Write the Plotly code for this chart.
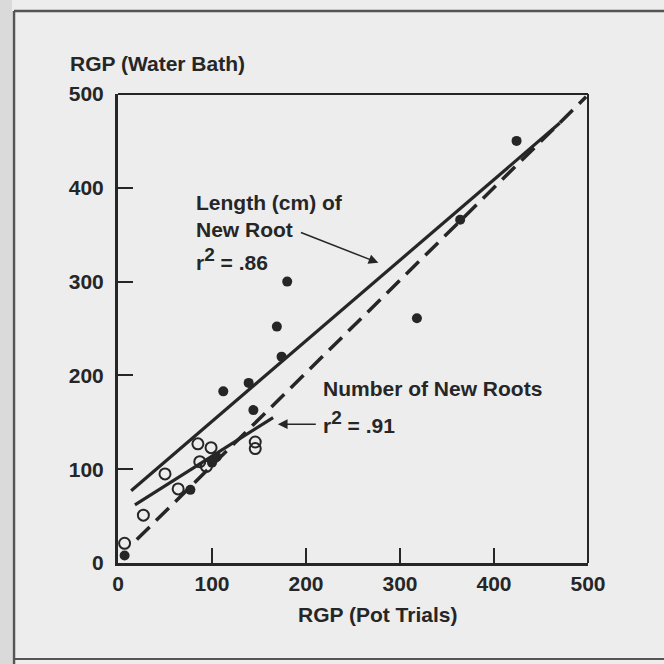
import plotly.graph_objects as go

# ---- data ----
length_x = [7, 77, 100, 105, 112, 139, 144, 174, 169, 180, 318, 364, 424]
length_y = [8, 78, 107, 113, 183, 192, 163, 220, 252, 300, 261, 366, 450]

number_x = [7, 27, 50, 64, 85, 87, 94, 99, 146, 146]
number_y = [21, 51, 95, 79, 127, 108, 103, 123, 129, 122]

length_fit_x = [14, 470]
length_fit_y = [77, 469]
number_fit_x = [18, 165]
number_fit_y = [62, 155]
dashed_x = [20, 498]
dashed_y = [25, 497]

tick_vals = [0, 100, 200, 300, 400, 500]
tick_text = ["0", "100", "200", "300", "400", "500"]

INK = "#262626"
BG = "#ededed"
FONT = "Liberation Sans"

fig = go.Figure()

fig.add_trace(go.Scatter(x=dashed_x, y=dashed_y, mode="lines",
                         line=dict(color=INK, width=3.5, dash="18px,9px"),
                         hoverinfo="skip", showlegend=False))
fig.add_trace(go.Scatter(x=length_fit_x, y=length_fit_y, mode="lines",
                         line=dict(color=INK, width=3.2), showlegend=False))
fig.add_trace(go.Scatter(x=number_fit_x, y=number_fit_y, mode="lines",
                         line=dict(color=INK, width=3.2), showlegend=False))
fig.add_trace(go.Scatter(x=length_x, y=length_y, mode="markers",
                         marker=dict(symbol="circle", size=10, color=INK),
                         showlegend=False))
fig.add_trace(go.Scatter(x=number_x, y=number_y, mode="markers",
                         marker=dict(symbol="circle-open", size=11, color=INK,
                                     line=dict(width=2, color=INK)),
                         showlegend=False))

axis_common = dict(range=[0, 500], tickvals=tick_vals, ticktext=tick_text,
                   ticks="inside", ticklen=15, tickwidth=2, tickcolor=INK,
                   showline=True, linewidth=3, linecolor=INK, showgrid=False,
                   zeroline=False, tickfont=dict(family=FONT, size=21, color=INK,
                                                  weight="bold"))
fig.update_xaxes(**axis_common, ticklabelstandoff=0)
fig.update_yaxes(**axis_common, ticklabelstandoff=7)

ann_font = dict(family=FONT, size=21, color=INK, weight="bold")
R2 = "r<sup><span style='font-size:19px'>2</span></sup> = "
annotations = [
    dict(text="RGP (Water Bath)", xref="paper", yref="paper",
         x=(68 - 118) / 470, y=(563 - 63) / 469, xanchor="left", yanchor="middle",
         showarrow=False, font=ann_font),
    dict(text="RGP (Pot Trials)", xref="paper", yref="paper",
         x=(377 - 118) / 470, y=(563 - 614) / 469, xanchor="center", yanchor="middle",
         showarrow=False, font=ann_font),
    dict(text="Length (cm) of", x=81, y=384, xanchor="left", yanchor="middle",
         showarrow=False, font=ann_font),
    dict(text="New Root", x=81, y=356, xanchor="left", yanchor="middle",
         showarrow=False, font=ann_font),
    dict(text=R2 + ".86", x=81, y=324, xanchor="left", yanchor="middle",
         showarrow=False, font=ann_font),
    dict(text="Number of New Roots", x=216, y=186, xanchor="left", yanchor="middle",
         showarrow=False, font=ann_font),
    dict(text=R2 + ".91", x=216, y=150, xanchor="left", yanchor="middle",
         showarrow=False, font=ann_font),
    dict(text="", x=277, y=320, ax=193, ay=353, axref="x", ayref="y",
         showarrow=True, arrowhead=2, arrowsize=1.3, arrowwidth=1.5, arrowcolor=INK),
    dict(text="", x=170, y=148, ax=212, ay=148, axref="x", ayref="y",
         showarrow=True, arrowhead=2, arrowsize=1.3, arrowwidth=1.5, arrowcolor=INK),
]

shapes = [
    # top and right frame of the plot box
    dict(type="line", xref="paper", yref="paper", x0=0, y0=1, x1=1, y1=1,
         line=dict(color=INK, width=2)),
    dict(type="line", xref="paper", yref="paper", x0=1, y0=0, x1=1, y1=1,
         line=dict(color=INK, width=2)),
    # scanned page edge
    dict(type="rect", xref="paper", yref="paper",
         x0=(0 - 118) / 470, x1=(12 - 118) / 470,
         y0=(563 - 664) / 469, y1=(563 - 0) / 469,
         fillcolor="#dadada", line=dict(width=0), layer="below"),
    dict(type="line", xref="paper", yref="paper",
         x0=(14 - 118) / 470, x1=(664 - 118) / 470,
         y0=(563 - 11) / 469, y1=(563 - 11) / 469,
         line=dict(color="#555555", width=2.5)),
    dict(type="line", xref="paper", yref="paper",
         x0=(14 - 118) / 470, x1=(14 - 118) / 470,
         y0=(563 - 11) / 469, y1=(563 - 664) / 469,
         line=dict(color="#555555", width=2.5)),
    dict(type="line", xref="paper", yref="paper",
         x0=(14 - 118) / 470, x1=(664 - 118) / 470,
         y0=(563 - 659) / 469, y1=(563 - 659) / 469,
         line=dict(color="#555555", width=2)),
]

fig.update_layout(
    width=664, height=664,
    margin=dict(l=118, r=76, t=94, b=101),
    paper_bgcolor=BG, plot_bgcolor=BG,
    annotations=annotations, shapes=shapes,
    showlegend=False,
)

fig.write_html("out.html",
               config={"displayModeBar": False},
               post_script="document.body.style.margin='0px';"
                           "document.body.style.overflow='hidden';")
